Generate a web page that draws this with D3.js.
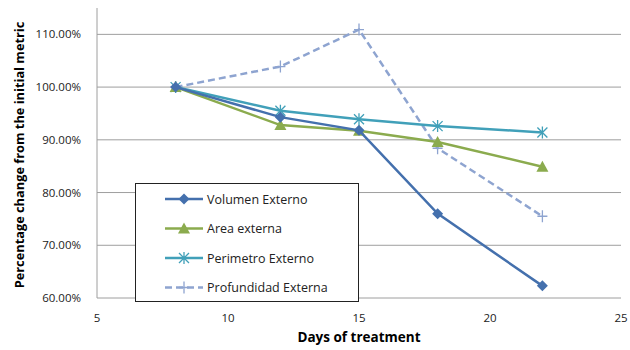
<!DOCTYPE html>
<html>
<head>
<meta charset="utf-8">
<script src="https://cdn.jsdelivr.net/npm/d3@7"></script>
<style>
  body { margin: 0; background: #fff; }
  svg { font-family: "Open Sans", "Liberation Sans", sans-serif; }
</style>
</head>
<body>
<div id="chart"></div>
<script>
// data
const days = [8, 12, 15, 18, 22];
const seriesNames = ["Volumen Externo", "Area externa", "Perimetro Externo", "Profundidad Externa"];
const volumen = [1.000, 0.943, 0.918, 0.760, 0.623];
const area = [1.000, 0.928, 0.917, 0.896, 0.849];
const perimetro = [1.000, 0.955, 0.939, 0.926, 0.914];
const profundidad = [1.000, 1.039, 1.109, 0.884, 0.755];
const xTicks = [5, 10, 15, 20, 25];
const yTicks = [0.6, 0.7, 0.8, 0.9, 1.0, 1.1];

const WIDTH = 630, HEIGHT = 350;
const margin = {left: 97, right: 9, top: 8, bottom: 52};

const series = [
  {name: seriesNames[0], values: volumen, color: "#4470ad", marker: "diamond", dash: null},
  {name: seriesNames[1], values: area, color: "#8bab4e", marker: "triangle", dash: null},
  {name: seriesNames[2], values: perimetro, color: "#41a0b9", marker: "asterisk", dash: null},
  {name: seriesNames[3], values: profundidad, color: "#8ea4d0", marker: "plus", dash: "7,4"}
];

const svg = d3.select("#chart").append("svg")
  .attr("width", WIDTH).attr("height", HEIGHT);

const x = d3.scaleLinear().domain([5, 25]).range([margin.left, WIDTH - margin.right]);
const y = d3.scaleLinear().domain([0.6, 1.15]).range([HEIGHT - margin.bottom, margin.top]);

// gridlines
svg.append("g")
  .selectAll("line")
  .data(yTicks)
  .join("line")
  .attr("x1", x(5)).attr("x2", x(25))
  .attr("y1", d => y(d)).attr("y2", d => y(d))
  .attr("stroke", "#9e9e9e").attr("stroke-width", 1);

// y axis line
svg.append("line")
  .attr("x1", x(5)).attr("x2", x(5))
  .attr("y1", y(1.15)).attr("y2", y(0.6))
  .attr("stroke", "#9e9e9e");

// y tick labels
svg.append("g")
  .selectAll("text")
  .data(yTicks)
  .join("text")
  .attr("x", x(5) - 16)
  .attr("y", d => y(d) + 4)
  .attr("text-anchor", "end")
  .attr("font-size", 11.5)
  .attr("fill", "#222")
  .text(d => d3.format(".2%")(d));

// x tick labels
svg.append("g")
  .selectAll("text")
  .data(xTicks)
  .join("text")
  .attr("x", d => x(d))
  .attr("y", y(0.6) + 24)
  .attr("text-anchor", "middle")
  .attr("font-size", 11.5)
  .attr("fill", "#222")
  .text(d => d);

// axis titles
svg.append("text")
  .attr("x", x(15))
  .attr("y", HEIGHT - 8)
  .attr("text-anchor", "middle")
  .attr("font-weight", "bold")
  .attr("font-size", 13.5)
  .text("Days of treatment");

svg.append("text")
  .attr("transform", `translate(24, ${(y(1.15) + y(0.6)) / 2 + 2}) rotate(-90)`)
  .attr("text-anchor", "middle")
  .attr("font-weight", "bold")
  .attr("font-size", 12.8)
  .text("Percentage change from the initial metric");

function drawMarker(g, kind, color) {
  if (kind === "diamond") {
    g.append("path").attr("d", "M0,-5.5L5.5,0L0,5.5L-5.5,0Z").attr("fill", color);
  } else if (kind === "triangle") {
    g.append("path").attr("d", "M0,-6L6,5L-6,5Z").attr("fill", color);
  } else if (kind === "asterisk") {
    g.append("path").attr("d", "M-5,-5L5,5M-5,5L5,-5M0,-6L0,6")
      .attr("stroke", color).attr("stroke-width", 1.3).attr("fill", "none");
  } else if (kind === "plus") {
    g.append("path").attr("d", "M-5,0L5,0M0,-6L0,6")
      .attr("stroke", color).attr("stroke-width", 1.3).attr("fill", "none");
  }
}

const line = d3.line().x(d => x(d[0])).y(d => y(d[1]));

// draw last series first so the solid lines sit on top
[...series].reverse().forEach(s => {
  const pts = days.map((d, i) => [d, s.values[i]]);
  const g = svg.append("g");
  g.append("path")
    .datum(pts)
    .attr("d", line)
    .attr("fill", "none")
    .attr("stroke", s.color)
    .attr("stroke-width", 2.5)
    .attr("stroke-dasharray", s.dash);
  g.selectAll("g.m")
    .data(pts)
    .join("g")
    .attr("class", "m")
    .attr("transform", d => `translate(${x(d[0])},${y(d[1])})`)
    .each(function () { drawMarker(d3.select(this), s.marker, s.color); });
});

// legend
const legend = svg.append("g").attr("transform", "translate(135,183)");
legend.append("rect")
  .attr("x", 0.5).attr("y", 0.5).attr("width", 223).attr("height", 118)
  .attr("fill", "#fff").attr("stroke", "#222").attr("stroke-width", 1);

series.forEach((s, i) => {
  const gy = 16 + i * 29.5;
  const item = legend.append("g").attr("transform", `translate(0,${gy})`);
  item.append("line")
    .attr("x1", 30).attr("x2", 68).attr("y1", 0).attr("y2", 0)
    .attr("stroke", s.color).attr("stroke-width", 2.5)
    .attr("stroke-dasharray", s.dash);
  const m = item.append("g").attr("transform", "translate(49,0)");
  drawMarker(m, s.marker, s.color);
  item.append("text")
    .attr("x", 72).attr("y", 4.5)
    .attr("font-size", 12.5)
    .attr("fill", "#222")
    .text(s.name);
});
</script>
</body>
</html>
